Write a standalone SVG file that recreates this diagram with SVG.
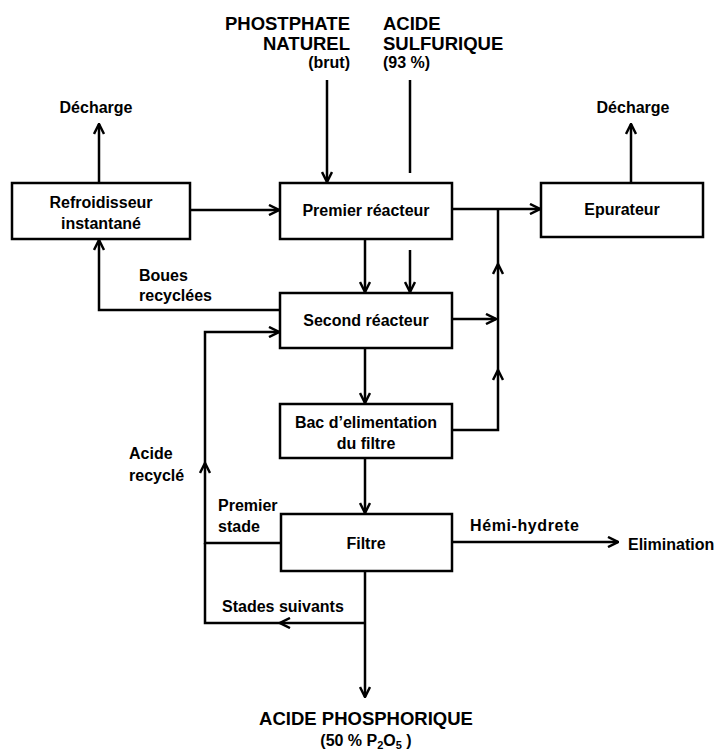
<svg xmlns="http://www.w3.org/2000/svg" width="721" height="751" viewBox="0 0 721 751">
<style>
text{font-family:"Liberation Sans",Arial,sans-serif;font-weight:bold;fill:#000;font-size:16px}
.c{text-anchor:middle}
.r{text-anchor:end}
.big{font-size:18.5px}
.box{fill:#fff;stroke:#000;stroke-width:2.5}
.ln{fill:none;stroke:#000;stroke-width:2.5}
.ar{fill:none;stroke:#000;stroke-width:2.5;marker-end:url(#a)}
</style>
<defs>
<marker id="a" viewBox="0 0 12 12" refX="11" refY="6" markerWidth="12" markerHeight="12" markerUnits="userSpaceOnUse" orient="auto">
<path d="M1,1 L11,6 L1,11" fill="none" stroke="#000" stroke-width="2.5"/>
</marker>
</defs>
<g id="connectors">
<path class="ar" d="M99,183 V124"/>
<path class="ar" d="M631,183 V124"/>
<path class="ar" d="M327,80 V182"/>
<path class="ln" d="M410,80 V173"/>
<path class="ar" d="M190,210 H279"/>
<path class="ar" d="M452,209 H540"/>
<path class="ar" d="M365,240 V292"/>
<path class="ar" d="M410,250 V292"/>
<path class="ar" d="M280,310 H99 V240"/>
<path class="ar" d="M452,319 H496"/>
<path class="ar" d="M452,430 H498 V370"/>
<path class="ar" d="M498,370 V264"/>
<path class="ln" d="M498,264 V209"/>
<path class="ar" d="M365,348 V403"/>
<path class="ar" d="M365,458 V513"/>
<path class="ar" d="M281,543 H205 V463"/>
<path class="ar" d="M205,463 V332 H279"/>
<path class="ar" d="M365,623 H280"/>
<path class="ln" d="M280,623 H205 V543"/>
<path class="ar" d="M365,571 V697"/>
<path class="ar" d="M452,542 H618"/>
</g>
<g id="refroidisseur"><rect class="box" x="12" y="183" width="178" height="56"/><text class="c" x="101" y="208">Refroidisseur</text><text class="c" x="101" y="229">instantané</text></g>
<g id="premier"><rect class="box" x="280" y="183" width="172" height="56"/><text class="c" x="366" y="216">Premier réacteur</text></g>
<g id="epurateur"><rect class="box" x="541" y="183" width="162" height="54"/><text class="c" x="622" y="215">Epurateur</text></g>
<g id="second"><rect class="box" x="280" y="293" width="172" height="55"/><text class="c" x="366" y="326">Second réacteur</text></g>
<g id="bac"><rect class="box" x="280" y="404" width="172" height="54"/><text class="c" x="366" y="428">Bac d’elimentation</text><text class="c" x="366" y="449">du filtre</text></g>
<g id="filtre"><rect class="box" x="281" y="514" width="171" height="57"/><text class="c" x="366" y="549">Filtre</text></g>
<g id="labels">
<text class="c" x="96" y="113">Décharge</text>
<text class="c" x="633" y="113">Décharge</text>
<text class="r big" x="350" y="30">PHOSTPHATE</text>
<text class="r big" x="350" y="50">NATUREL</text>
<text class="r" x="350" y="68">(brut)</text>
<text class="big" x="383" y="30">ACIDE</text>
<text class="big" x="383" y="50">SULFURIQUE</text>
<text x="383" y="68">(93 %)</text>
<text x="139" y="281">Boues</text>
<text x="139" y="301">recyclées</text>
<text x="129" y="459">Acide</text>
<text x="129" y="481">recyclé</text>
<text x="218" y="511">Premier</text>
<text x="218" y="532">stade</text>
<text x="222" y="612">Stades suivants</text>
<text x="470" y="531" letter-spacing="0.6">Hémi-hydrete</text>
<text x="628" y="550">Elimination</text>
<text class="c big" x="366" y="725">ACIDE PHOSPHORIQUE</text>
<text class="c" x="366" y="746">(50 % P<tspan font-size="11" dy="3">2</tspan><tspan dy="-3">O</tspan><tspan font-size="11" dy="3">5</tspan><tspan dy="-3"> )</tspan></text>
</g>
</svg>
